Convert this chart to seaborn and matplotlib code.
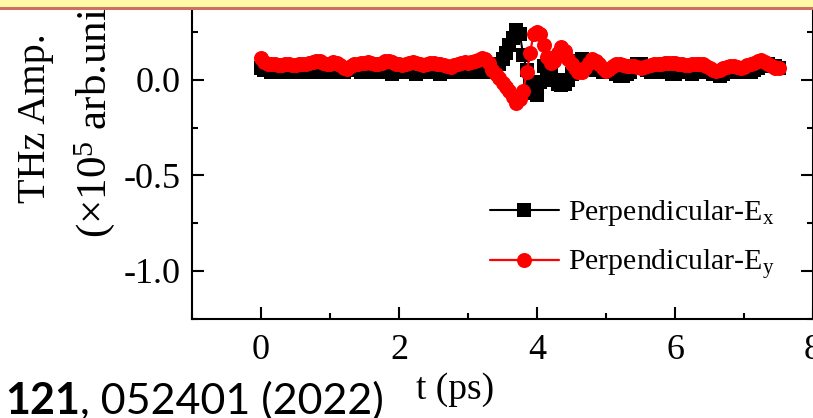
import numpy as np
import pandas as pd
import matplotlib
matplotlib.use("Agg")
import matplotlib.pyplot as plt
from matplotlib.patches import Rectangle
from matplotlib.ticker import MultipleLocator
import seaborn as sns

# Time delay grid (ps), 0.05 ps sampling
t_ps = np.round(np.arange(151) * 0.05, 2)

# Perpendicular-Ex amplitude (x10^5 arb. units)
ex_amp = [
    0.06, 0.05, 0.05, 0.04, 0.05, 0.05, 0.04, 0.05, 0.05, 0.04,
    0.05, 0.05, 0.04, 0.05, 0.05, 0.04, 0.05, 0.05, 0.04, 0.05,
    0.05, 0.04, 0.05, 0.05, 0.04, 0.05, 0.06, 0.05, 0.05, 0.04,
    0.05, 0.04, 0.05, 0.05, 0.04, 0.05, 0.05, 0.04, 0.03, 0.04,
    0.05, 0.04, 0.04, 0.05, 0.04, 0.03, 0.04, 0.05, 0.04, 0.04,
    0.05, 0.04, 0.03, 0.04, 0.05, 0.04, 0.04, 0.05, 0.04, 0.04,
    0.04, 0.05, 0.04, 0.04, 0.05, 0.04, 0.05,
    0.05, 0.06, 0.08, 0.11, 0.14, 0.18, 0.22, 0.26, 0.24, 0.13,
    0.05, -0.02, -0.07, -0.08, -0.01, 0.07, 0.06, 0.03, 0.00, -0.02,
    -0.03, -0.02, 0.00, 0.03, 0.06, 0.10, 0.11, 0.09,
    0.07, 0.06, 0.05, 0.05, 0.04,
    0.04, 0.05, 0.04, 0.03, 0.02, 0.02, 0.03, 0.04, 0.06, 0.08,
    0.08, 0.06, 0.05, 0.04, 0.05, 0.05, 0.04, 0.05, 0.04, 0.03,
    0.03, 0.04, 0.05, 0.05, 0.04, 0.03, 0.04, 0.05, 0.05, 0.04,
    0.04, 0.03, 0.03, 0.02, 0.03, 0.04, 0.05, 0.05, 0.04, 0.05,
    0.05, 0.04, 0.04, 0.05, 0.06, 0.07, 0.08, 0.08, 0.07, 0.07,
    0.06,
]

# Perpendicular-Ey amplitude (x10^5 arb. units)
ey_amp = [
    0.115, 0.095, 0.085, 0.08, 0.08, 0.075, 0.075, 0.08, 0.08, 0.075,
    0.075, 0.08, 0.085, 0.085, 0.09, 0.095, 0.10, 0.10, 0.09, 0.08,
    0.085, 0.095, 0.09, 0.075, 0.06, 0.055, 0.07, 0.08, 0.085, 0.09,
    0.09, 0.095, 0.09, 0.08, 0.085, 0.09, 0.10, 0.10, 0.095, 0.085,
    0.08, 0.075, 0.08, 0.09, 0.095, 0.09, 0.08, 0.075, 0.085, 0.09,
    0.09, 0.085, 0.08, 0.075, 0.07, 0.065, 0.075, 0.085, 0.09, 0.095,
    0.09, 0.095, 0.10, 0.105,
    0.115, 0.11, 0.09, 0.05, 0.03, 0.01, -0.015, -0.04, -0.06, -0.09,
    -0.12, -0.10, -0.06, 0.04, 0.14, 0.24, 0.25, 0.24, 0.18, 0.12,
    0.09, 0.10, 0.14, 0.17, 0.15, 0.11, 0.08, 0.06, 0.04, 0.04,
    0.06, 0.09, 0.11, 0.10, 0.08,
    0.06, 0.045, 0.055, 0.07, 0.08, 0.08, 0.075, 0.07, 0.07, 0.07,
    0.065, 0.06, 0.065, 0.07, 0.075, 0.08, 0.08, 0.085, 0.09, 0.09,
    0.09, 0.09, 0.085, 0.08, 0.075, 0.075, 0.08, 0.085, 0.085, 0.08,
    0.07, 0.06, 0.05, 0.045, 0.05, 0.06, 0.065, 0.07, 0.07, 0.065,
    0.06, 0.065, 0.075, 0.085, 0.09, 0.10, 0.105, 0.095, 0.08, 0.07,
    0.06, 0.06,
]

series_labels = ["Perpendicular-E$_\\mathrm{x}$", "Perpendicular-E$_\\mathrm{y}$"]
x_ticks = [0, 2, 4, 6, 8]
y_ticks = [-1.0, -0.5, 0.0]

df = pd.DataFrame({"t": t_ps, "Ex": ex_amp, "Ey": ey_amp})

sns.set_theme(style="ticks")
serif = ["Liberation Serif", "DejaVu Serif"]
plt.rcParams["font.family"] = serif
plt.rcParams["mathtext.fontset"] = "custom"
plt.rcParams["mathtext.rm"] = "Liberation Serif"
plt.rcParams["mathtext.it"] = "Liberation Serif:italic"

W, H = 813, 418
fig = plt.figure(figsize=(W / 100, H / 100), dpi=100)
fig.patch.set_facecolor("white")

# axes placed in pixel terms: x from -1 (px 192) to 8 (px 813); y from -1.25 to 0.5
px_per_x = 69.0
px_per_y = 191.0
ax_left = 192.0
ax_bottom_from_top = 318.5
ax_w = 9 * px_per_x
ax_h = 1.75 * px_per_y
ax = fig.add_axes([ax_left / W, (H - ax_bottom_from_top) / H, ax_w / W, ax_h / H])
ax.set_facecolor("white")

sns.lineplot(data=df, x="t", y="Ex", ax=ax, color="black", marker="s",
             markersize=9.5, markeredgewidth=0, linewidth=1.5,
             label=series_labels[0])
sns.lineplot(data=df, x="t", y="Ey", ax=ax, color="#ff0000", marker="o",
             markersize=10.8, markeredgewidth=0, linewidth=1.6,
             label=series_labels[1])

ax.set_xlim(-1, 8)
ax.set_ylim(-1.25, 0.5)
ax.set_xticks(x_ticks)
ax.set_yticks(y_ticks)
ax.set_xticklabels([str(v) for v in x_ticks])
ax.set_yticklabels([f"{v:.1f}" for v in y_ticks])
ax.xaxis.set_minor_locator(MultipleLocator(1))
ax.yaxis.set_minor_locator(MultipleLocator(0.25))
ax.tick_params(which="both", direction="in", top=True, right=True,
               width=1.5, color="black", labelcolor="black")
ax.tick_params(which="major", length=8.5, labelsize=26)
ax.tick_params(which="minor", length=4.5)
ax.tick_params(axis="x", which="major", pad=11)
ax.tick_params(axis="y", which="major", pad=8)
for sp in ax.spines.values():
    sp.set_visible(True)
    sp.set_linewidth(1.5)
    sp.set_color("black")

ax.set_ylabel("")
ax.set_xlabel("t (ps)", fontsize=27, color="black")
ax.xaxis.set_label_coords((455 - ax_left) / ax_w, -(372 - ax_bottom_from_top) / ax_h)

leg = ax.legend(loc="upper left",
                bbox_to_anchor=((490 - ax_left) / ax_w, (ax_bottom_from_top - 198) / ax_h),
                frameon=False, fontsize=21.5, handlelength=2.3, handletextpad=0.3,
                labelspacing=0.65, borderpad=0, borderaxespad=0)
for txt in leg.get_texts():
    txt.set_color("black")

# two-line rotated y label
fig.text(35 / W, (H - 203) / H, "THz Amp.", rotation=90, ha="center", va="bottom",
         fontsize=29, color="black", family=serif)
fig.text(95 / W, (H - 238) / H, "(\u00d710$^{5}$ arb.units)", rotation=90, ha="center",
         va="bottom", fontsize=31, color="black", family=serif)

# slide header band across the top
fig.add_artist(Rectangle((0, 1 - 7 / H), 1, 7 / H, transform=fig.transFigure,
                         facecolor="#fffaa6", edgecolor="none", zorder=20))
fig.add_artist(Rectangle((0, 1 - 9.5 / H), 1, 3 / H, transform=fig.transFigure,
                         facecolor="#cf6e62", edgecolor="none", zorder=21))

# citation fragment at the bottom left
sans = ["Lato", "DejaVu Sans"]
t1 = fig.text(5 / W, 4 / H, "121", fontsize=31, fontweight="bold", family=sans,
              color="black", ha="left", va="baseline")
fig.canvas.draw()
bb = t1.get_window_extent(fig.canvas.get_renderer())
fig.text(bb.x1 / W, 4 / H, ", 052401 (2022)", fontsize=31, family=sans,
         color="black", ha="left", va="baseline")

fig.savefig("out.png", dpi=100, facecolor="white")
